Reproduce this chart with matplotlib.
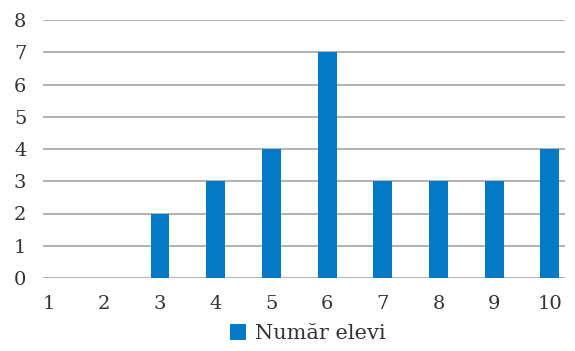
import matplotlib
matplotlib.use("Agg")
from matplotlib import pyplot as plt

note = [1, 2, 3, 4, 5, 6, 7, 8, 9, 10]
elevi = [0, 0, 2, 3, 4, 7, 3, 3, 3, 4]
y_ticks = [0, 1, 2, 3, 4, 5, 6, 7, 8]

plt.rcParams['font.family'] = ['DejaVu Serif']

fig = plt.figure(figsize=(5.75, 3.51), dpi=100)
ax = fig.add_axes([43/575, 73/351, 522/575, 258/351])

ax.bar(note, elevi, width=0.34, color='#0479c5', label='Număr elevi', zorder=3)

ax.set_xlim(0.9, 10.27)
ax.set_ylim(0, 8)
ax.set_yticks(y_ticks)
ax.set_xticks(note)
ax.grid(axis='y', color='#ababab', linewidth=1.3, zorder=0)
for s in ax.spines.values():
    s.set_visible(False)
ax.tick_params(length=0, labelsize=14, colors='#333333')
ax.tick_params(axis='y', pad=12)
ax.tick_params(axis='x', pad=12)

fig.legend(loc='lower center', bbox_to_anchor=(0.535, -0.03), frameon=False,
           fontsize=15, handlelength=0.8, handleheight=0.8, handletextpad=0.4,
           labelcolor='#333333')

fig.savefig('out.png', dpi=100)
